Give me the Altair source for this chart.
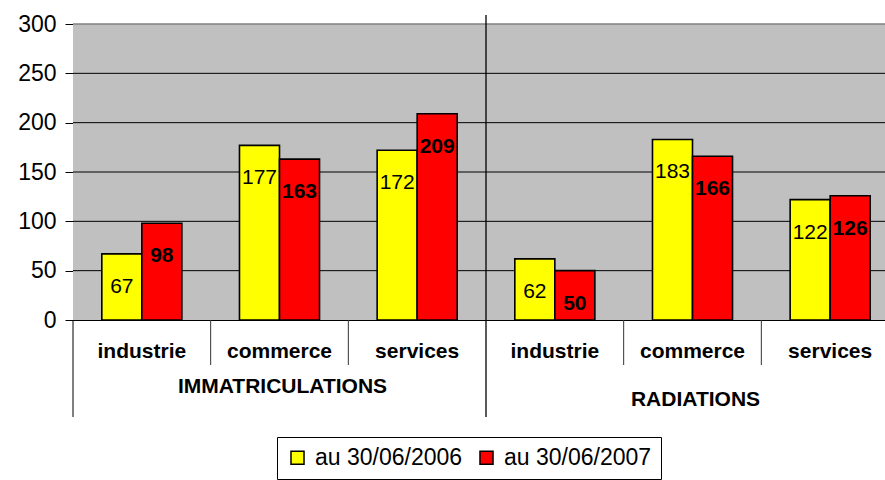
import altair as alt
import pandas as pd

groups = ["IMMATRICULATIONS"] * 3 + ["RADIATIONS"] * 3
categories = ["industrie", "commerce", "services"] * 2
series_names = ["au 30/06/2006", "au 30/06/2007"]
v2006 = [67, 177, 172, 62, 183, 122]
v2007 = [98, 163, 209, 50, 166, 126]
y_ticks = [0, 50, 100, 150, 200, 250, 300]

keys = [g + "|" + c for g, c in zip(groups, categories)]

rows = []
for k, g, c, a, b in zip(keys, groups, categories, v2006, v2007):
    rows.append({"key": k, "group": g, "cat": c, "series": series_names[0], "value": a})
    rows.append({"key": k, "group": g, "cat": c, "series": series_names[1], "value": b})
df = pd.DataFrame(rows)
slots = pd.DataFrame({"key": keys, "group": groups, "cat": categories})
ticks_df = pd.DataFrame({"value": y_ticks})

FONT = "Liberation Sans"

xscale = alt.Scale(domain=keys, range=[0, 826], paddingInner=0, paddingOuter=0)
xoff_scale = alt.Scale(domain=series_names, paddingInner=0, paddingOuter=0.72)
yscale = alt.Scale(domain=[0, 300], nice=False)

X = alt.X("key:N", scale=xscale, sort=keys,
          axis=alt.Axis(labels=False, ticks=False, title=None, domainColor="black",
                        domainWidth=1, grid=False))
Y = alt.Y("value:Q", scale=yscale,
          axis=alt.Axis(values=y_ticks, title=None, labelFontSize=23, labelColor="black",
                        labelPadding=9, tickSize=8, tickColor="black", domainColor="black",
                        grid=False, labelFont=FONT))

bg = alt.Chart(slots).transform_filter(alt.datum.key == keys[0]).mark_rect(
    fill="#C0C0C0").encode(
    x=alt.value(0), x2=alt.value(812), y=alt.value(0), y2=alt.value(296))

grid = alt.Chart(ticks_df).transform_filter(
    (alt.datum.value > 0) & (alt.datum.value < 300)).mark_rule(
    color="black", strokeWidth=1).encode(
    x=alt.value(0), x2=alt.value(812), y=alt.Y("value:Q", scale=yscale))

top_border = alt.Chart(ticks_df).transform_filter(alt.datum.value == 300).mark_rule(
    color="#808080", strokeWidth=1.5).encode(
    x=alt.value(0), x2=alt.value(812), y=alt.Y("value:Q", scale=yscale))

bars = alt.Chart(df).mark_bar(stroke="black", strokeWidth=1.6).encode(
    x=X,
    xOffset=alt.XOffset("series:N", scale=xoff_scale),
    y=Y,
    color=alt.Color("series:N", scale=alt.Scale(domain=series_names, range=["#FFFF00", "#FF0000"]),
                    legend=alt.Legend(title=None, orient="none", legendX=204, legendY=413,
                                      direction="horizontal", strokeColor="black", fillColor="white",
                                      padding=9, labelFontSize=23, labelFont=FONT, labelColor="black",
                                      symbolType="square", symbolSize=170, symbolStrokeColor="black",
                                      symbolStrokeWidth=1.5, columnPadding=12, labelOffset=6)),
)

lab_2006 = alt.Chart(df).transform_filter(alt.datum.series == series_names[0]).mark_text(
    baseline="middle", dy=33, fontSize=21, font=FONT, color="black").encode(
    x=alt.X("key:N", scale=xscale, sort=keys),
    xOffset=alt.XOffset("series:N", scale=xoff_scale),
    y=alt.Y("value:Q", scale=yscale),
    text="value:Q",
)
lab_2007 = alt.Chart(df).transform_filter(alt.datum.series == series_names[1]).mark_text(
    baseline="middle", dy=33, fontSize=21, fontWeight="bold", font=FONT, color="black").encode(
    x=alt.X("key:N", scale=xscale, sort=keys),
    xOffset=alt.XOffset("series:N", scale=xoff_scale),
    y=alt.Y("value:Q", scale=yscale),
    text="value:Q",
)

cat_labels = alt.Chart(slots).mark_text(
    baseline="middle", fontSize=21, fontWeight="bold", font=FONT, color="black").encode(
    x=alt.X("key:N", scale=xscale, sort=keys),
    y=alt.value(328),
    text="cat:N",
)

grp1 = alt.Chart(slots).transform_filter(
    (alt.datum.group == "IMMATRICULATIONS") & (alt.datum.cat == "commerce")).mark_text(
    baseline="middle", fontSize=21, fontWeight="bold", font=FONT, color="black", dx=3).encode(
    x=alt.X("key:N", scale=xscale, sort=keys), y=alt.value(363), text="group:N")
grp2 = alt.Chart(slots).transform_filter(
    (alt.datum.group == "RADIATIONS") & (alt.datum.cat == "commerce")).mark_text(
    baseline="middle", fontSize=21, fontWeight="bold", font=FONT, color="black", dx=3).encode(
    x=alt.X("key:N", scale=xscale, sort=keys), y=alt.value(376), text="group:N")

cat_sep = alt.Chart(slots).transform_filter(alt.datum.cat != "industrie").mark_rule(
    color="#333333", strokeWidth=1).encode(
    x=alt.X("key:N", scale=xscale, sort=keys, bandPosition=0),
    y=alt.value(296), y2=alt.value(341))

grp_sep = alt.Chart(slots).transform_filter(
    (alt.datum.group == "RADIATIONS") & (alt.datum.cat == "industrie")).mark_rule(
    color="black", strokeWidth=1.3).encode(
    x=alt.X("key:N", scale=xscale, sort=keys, bandPosition=0),
    y=alt.value(-9), y2=alt.value(393))

left_ext = alt.Chart(slots).transform_filter(alt.datum.key == keys[0]).mark_rule(
    color="black", strokeWidth=1).encode(
    x=alt.value(0), y=alt.value(296), y2=alt.value(393))

chart = alt.layer(bg, grid, top_border, bars, lab_2006, lab_2007, cat_sep, grp_sep, left_ext,
                  cat_labels, grp1, grp2).properties(
    width=812, height=296,
    autosize=alt.AutoSizeParams(type="none"),
    padding={"left": 73, "top": 24, "right": 0, "bottom": 160},
    background="white",
).configure_view(
    stroke=None,
).configure(font=FONT)

chart.save("out.html", embed_options={"renderer": "svg", "actions": False})
